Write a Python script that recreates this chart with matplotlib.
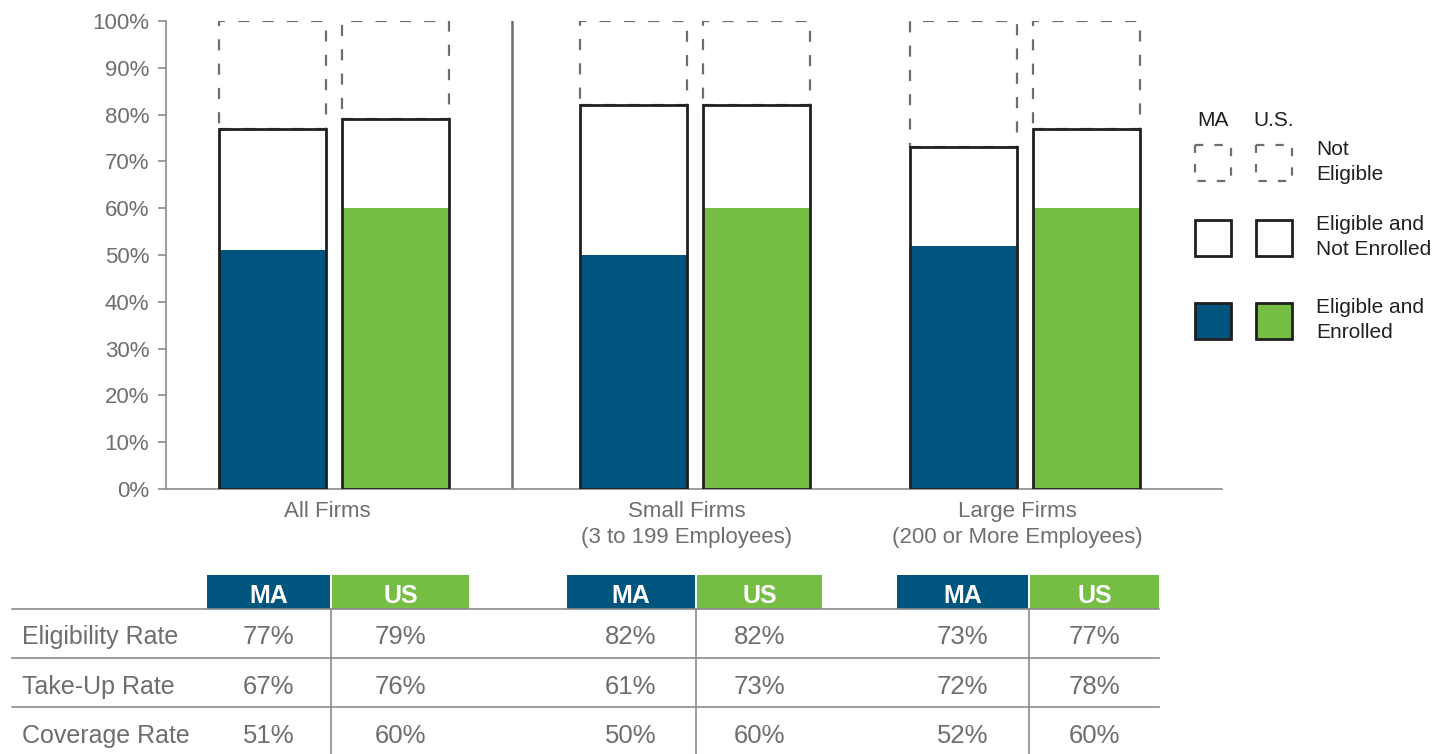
import matplotlib
matplotlib.use("Agg")
import matplotlib.pyplot as plt
from matplotlib.patches import Rectangle
from matplotlib import font_manager as fm

# ---------------- data ----------------
groups = ["All Firms", "Small Firms\n(3 to 199 Employees)", "Large Firms\n(200 or More Employees)"]
series = ["MA", "US"]
eligibility_ma = [77, 82, 73]
eligibility_us = [79, 82, 77]
takeup_ma = [67, 61, 72]
takeup_us = [76, 73, 78]
coverage_ma = [51, 50, 52]
coverage_us = [60, 60, 60]
row_labels = ["Eligibility Rate", "Take-Up Rate", "Coverage Rate"]
y_ticks = [0, 10, 20, 30, 40, 50, 60, 70, 80, 90, 100]
legend_cols = ["MA", "U.S."]
legend_labels = ["Not\nEligible", "Eligible and\nNot Enrolled", "Eligible and\nEnrolled"]

# ---------------- style ----------------
C_MA = "#00557f"
C_US = "#75bd43"
C_TXT = "#6d6e71"
C_EDGE = "#231f20"
C_DASH = "#6d6e71"
C_AXIS = "#8a8b8e"

names = {f.name for f in fm.fontManager.ttflist}
MAIN_FONT = "Liberation Sans" if "Liberation Sans" in names else "DejaVu Sans"
HEAD_FONT = "Liberation Sans Narrow" if "Liberation Sans Narrow" in names else MAIN_FONT
plt.rcParams["font.family"] = [MAIN_FONT, "DejaVu Sans"]

W, H = 1446, 754
fig = plt.figure(figsize=(W / 100, H / 100), dpi=100)

# overlay axes in pixel coordinates for table + legend
oax = fig.add_axes([0, 0, 1, 1])
oax.set_xlim(0, W)
oax.set_ylim(H, 0)
oax.axis("off")
oax.patch.set_visible(False)

# main chart axes
ax_l, ax_r, ax_t, ax_b = 166, 1222, 21, 489
ax = fig.add_axes([ax_l / W, 1 - ax_b / H, (ax_r - ax_l) / W, (ax_b - ax_t) / H])
ax.set_xlim(ax_l, ax_r)
ax.set_ylim(0, 100)
ax.patch.set_visible(False)
for s in ["top", "right"]:
    ax.spines[s].set_visible(False)
for s in ["left", "bottom"]:
    ax.spines[s].set_color(C_AXIS)
    ax.spines[s].set_linewidth(1.2)
ax.set_yticks(y_ticks)
ax.set_yticklabels([f"{v}%" for v in y_ticks], fontsize=16, color=C_TXT)
ax.tick_params(axis="y", length=6, width=1.2, color=C_AXIS, pad=6)
ax.set_xticks([])

group_centers = [334, 695, 1025]
bar_w = 107
offset = 61.5
eligs = [eligibility_ma, eligibility_us]
covs = [coverage_ma, coverage_us]
colors = [C_MA, C_US]

dash_lw = 1.6
dash_ls = (0, (8.0 / dash_lw, 9.5 / dash_lw))

for gi, gc in enumerate(group_centers):
    for si in range(2):
        x = gc + (si - 0.5) * 2 * offset
        e = eligs[si][gi]
        c = covs[si][gi]
        ax.bar(x, 100 - e, bottom=e, width=bar_w, fill=False, edgecolor=C_DASH,
               linewidth=dash_lw, linestyle=dash_ls, zorder=2)
        ax.bar(x, e, width=bar_w, color="white", linewidth=0, zorder=3)
        ax.bar(x, c, width=bar_w, color=colors[si], linewidth=0, zorder=4)
        ax.bar(x, e, width=bar_w, fill=False, edgecolor=C_EDGE, linewidth=2.0, zorder=5)
    ax.text(gc - 7 if gi == 0 else gc - 8, -2.6, groups[gi], ha="center", va="top",
            fontsize=16, color=C_TXT, linespacing=1.32, clip_on=False)

# separator line between All Firms and the firm-size groups
ax.plot([512, 512], [0, 100], color="#6d6e71", lw=1.8, zorder=1)

# ---------------- legend ----------------
leg_x = [1195, 1256]
leg_w = 36
leg_rows_y = [145, 220, 303]
for i, lab in enumerate(legend_cols):
    oax.text(leg_x[i] + leg_w / 2, 121, lab, ha="center", va="center", fontsize=15, color="#231f20")
for ri, yy in enumerate(leg_rows_y):
    for si in range(2):
        if ri == 0:
            oax.add_patch(Rectangle((leg_x[si], yy), leg_w, leg_w, fill=False, edgecolor=C_DASH,
                                    linewidth=dash_lw, linestyle=(0, (6.0 / dash_lw, 8.0 / dash_lw))))
        else:
            fc = "white" if ri == 1 else colors[si]
            oax.add_patch(Rectangle((leg_x[si], yy), leg_w, leg_w, facecolor=fc, edgecolor=C_EDGE,
                                    linewidth=2.0))
    oax.text(1316, yy + leg_w / 2 - 1, legend_labels[ri], ha="left", va="center", fontsize=15,
             color="#231f20", linespacing=1.35)

# ---------------- table ----------------
ma_cols = [(207, 330), (567, 695), (897, 1028)]
us_cols = [(332, 469), (697, 822), (1030, 1159)]
head_top, head_bot = 575, 609
row_lines = [609, 658, 707]
row_centers = [637, 687, 736]
table_left, table_right = 12, 1159

for gi in range(3):
    for cols, col, lab in [(ma_cols, C_MA, "MA"), (us_cols, C_US, "US")]:
        x0, x1 = cols[gi]
        oax.add_patch(Rectangle((x0, head_top), x1 - x0, head_bot - head_top, facecolor=col,
                                edgecolor="none"))
        oax.text((x0 + x1) / 2, 596, lab, ha="center", va="center", fontsize=18,
                 fontweight="bold", color="white", family=[HEAD_FONT, "DejaVu Sans"])
    # vertical divider between MA and US columns
    xdiv = (ma_cols[gi][1] + us_cols[gi][0]) / 2
    oax.plot([xdiv, xdiv], [head_bot, H], color=C_AXIS, lw=1.2)

for yl in row_lines:
    oax.plot([table_left, table_right], [yl, yl], color=C_AXIS, lw=1.2)

table_vals = [(eligibility_ma, eligibility_us), (takeup_ma, takeup_us), (coverage_ma, coverage_us)]
for ri, (vma, vus) in enumerate(table_vals):
    yc = row_centers[ri]
    oax.text(22, yc, row_labels[ri], ha="left", va="center", fontsize=18, color=C_TXT)
    for gi in range(3):
        oax.text(sum(ma_cols[gi]) / 2, yc, f"{vma[gi]}%", ha="center", va="center",
                 fontsize=18.5, color=C_TXT)
        oax.text(sum(us_cols[gi]) / 2, yc, f"{vus[gi]}%", ha="center", va="center",
                 fontsize=18.5, color=C_TXT)

fig.savefig("out.png", dpi=100, facecolor="white")
